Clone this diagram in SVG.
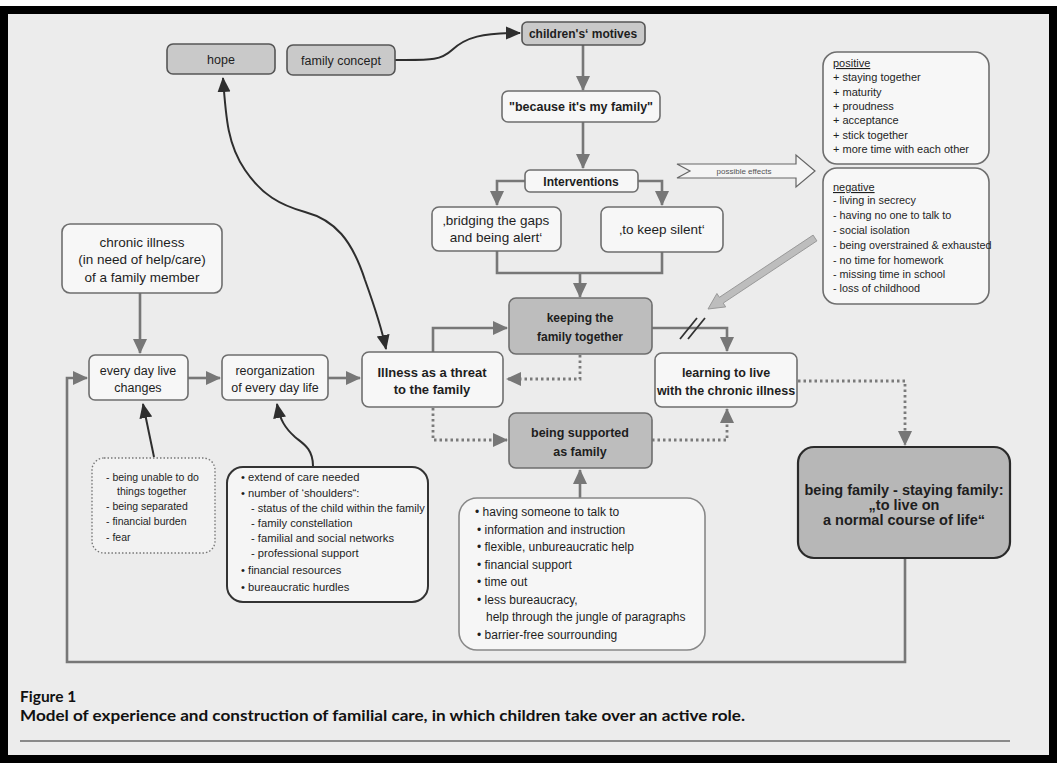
<svg xmlns="http://www.w3.org/2000/svg" width="1057" height="763" viewBox="0 0 1057 763">
<style>
text{font-family:"Liberation Sans",Arial,sans-serif;fill:#1e1e1e}
.b{font-weight:bold}
.c{text-anchor:middle}
.box{fill:#f7f7f7;stroke:#6e6e6e;stroke-width:1.6}
.gbox{fill:#c9c9c9;stroke:#555;stroke-width:1.6}
.dbox{fill:#bdbdbd;stroke:#6e6e6e;stroke-width:1.6}
.ln{fill:none;stroke:#777;stroke-width:2.6}
.dot{fill:none;stroke:#7a7a7a;stroke-width:2.8;stroke-dasharray:2.5 3}
.dk{fill:none;stroke:#2e2e2e;stroke-width:2}
.s11{font-size:11px}
.s12{font-size:12px}
.s13{font-size:13.5px}
.cap{font-family:Lato,"Open Sans",sans-serif;font-weight:bold;font-size:15.5px;fill:#111}
</style>
<defs>
<marker id="ag" markerUnits="userSpaceOnUse" markerWidth="16" markerHeight="16" viewBox="0 0 16 16" refX="14" refY="8" orient="auto">
<path d="M0,1 L15,8 L0,15 z" fill="#777"/>
</marker>
<marker id="ad" markerUnits="userSpaceOnUse" markerWidth="16" markerHeight="16" viewBox="0 0 16 16" refX="14" refY="8" orient="auto-start-reverse">
<path d="M0,1.5 L15,8 L0,14.5 z" fill="#2e2e2e"/>
</marker>
</defs>
<rect width="1057" height="763" fill="#ffffff"/>
<rect x="8" y="14" width="1041" height="741" fill="#ececec"/>
<path d="M0,6 H1057 V763 H0 Z M8,14 V755 H1049 V14 Z" fill="#000" fill-rule="evenodd"/>

<g id="connectors">
<path class="dk" d="M395,60 C430,60 440,61 452,50 C466,37 482,33 520,33" marker-end="url(#ad)"/>
<path class="ln" d="M583,45 V90" marker-end="url(#ag)"/>
<path class="ln" d="M583,122 V168" marker-end="url(#ag)"/>
<path class="ln" d="M525,181 H497 V205" marker-end="url(#ag)"/>
<path class="ln" d="M638,181 H662 V205" marker-end="url(#ag)"/>
<path class="ln" d="M497,251 V273 H662 V252"/>
<path class="ln" d="M580,273 V297" marker-end="url(#ag)"/>
<path class="ln" d="M433,352 V328 H507" marker-end="url(#ag)"/>
<path class="ln" d="M652,328 H727 V351" marker-end="url(#ag)"/>
<path d="M680,339 L697,318 M688,339 L705,318" stroke="#333" stroke-width="1.8" fill="none"/>
<path class="dot" d="M580,355 V379 H507" marker-end="url(#ag)"/>
<path class="dot" d="M433,408 V440 H507" marker-end="url(#ag)"/>
<path class="dot" d="M652,440 H727 V409" marker-end="url(#ag)"/>
<path class="dot" d="M798,381 H905 V445" marker-end="url(#ag)"/>
<path class="ln" d="M905,559 V662 H67 V378 H87" stroke-width="3" marker-end="url(#ag)"/>
<path class="ln" d="M140,293 V353" marker-end="url(#ag)"/>
<path class="ln" d="M188,378 H220" marker-end="url(#ag)"/>
<path class="ln" d="M328,378 H360" marker-end="url(#ag)"/>
<path class="ln" d="M580,498 V470" marker-end="url(#ag)"/>
<path class="dk" d="M313,466 C313,448 302,443 295,437 C285,428 280,420 277,404" marker-end="url(#ad)"/>
<path class="dk" d="M154,457 L143,404" stroke-width="1.6" marker-end="url(#ad)"/>
<path class="dk" d="M223,78 C226,120 228,145 245,170 C262,195 280,205 305,212 C335,220 352,240 365,280 C374,305 381,325 386,349" marker-start="url(#ad)" marker-end="url(#ad)"/>
<polygon points="677,164 796,164 796,155 815,171 796,187 796,178 677,178 690,171" fill="#f4f4f4" stroke="#666" stroke-width="1.2"/>
<text x="744" y="174" class="c" font-size="8" style="fill:#555">possible effects</text>
<polygon points="813.1,235.1 719.4,297.3 716.9,293.5 708,309 725.7,306.9 723.2,303.1 816.9,240.9" fill="#bdbdbd" stroke="#999" stroke-width="1"/>
</g>

<g id="hope"><rect class="gbox" x="167" y="44" width="108" height="30" rx="6"/><text x="221" y="63.5" class="c" font-size="12.5">hope</text></g>
<g id="family-concept"><rect class="gbox" x="287" y="45" width="108" height="30" rx="6"/><text x="341" y="64.5" class="c" font-size="12.5">family concept</text></g>
<g id="motives"><rect class="gbox" x="522" y="22" width="123" height="23" rx="5"/><text x="583" y="38" class="c b s12">children's‘ motives</text></g>
<g id="because"><rect class="box" x="502" y="91" width="158" height="31" rx="6"/><text x="581" y="111" class="c b" font-size="12.5">"because it's my family"</text></g>
<g id="interventions"><rect class="box" x="525" y="170" width="113" height="22" rx="5"/><text x="581" y="185.5" class="c b s12">Interventions</text></g>
<g id="bridging"><rect class="box" x="432" y="207" width="129" height="44" rx="7"/><text x="496" y="225" class="c s13">‚bridging the gaps</text><text x="496" y="242" class="c s13">and being alert‘</text></g>
<g id="keep-silent"><rect class="box" x="601" y="207" width="122" height="45" rx="7"/><text x="662" y="234" class="c s13">‚to keep silent‘</text></g>
<g id="keeping"><rect class="dbox" x="509" y="298" width="143" height="56" rx="7"/><text x="580" y="322" class="c b s12">keeping the</text><text x="580" y="341" class="c b s12">family together</text></g>
<g id="illness-threat"><rect class="box" x="362" y="352" width="141" height="55" rx="7"/><text x="432" y="377" class="c b" font-size="13">Illness as a threat</text><text x="432" y="394" class="c b" font-size="13">to the family</text></g>
<g id="every-day"><rect class="box" x="89" y="355" width="99" height="45" rx="6"/><text x="138" y="375" class="c" font-size="12.5">every day live</text><text x="138" y="392" class="c" font-size="12.5">changes</text></g>
<g id="reorganization"><rect class="box" x="222" y="355" width="106" height="45" rx="6"/><text x="275" y="375" class="c" font-size="12.5">reorganization</text><text x="275" y="392" class="c" font-size="12.5">of every day life</text></g>
<g id="chronic"><rect class="box" x="62" y="224" width="160" height="69" rx="8"/><text x="142" y="247" class="c s13">chronic illness</text><text x="142" y="264" class="c s13">(in need of help/care)</text><text x="142" y="282" class="c s13">of a family member</text></g>
<g id="learning"><rect class="box" x="655" y="353" width="142" height="54" rx="7"/><text x="726" y="377" class="c b" font-size="12.5">learning to live</text><text x="726" y="395" class="c b" font-size="12.5">with the chronic illness</text></g>
<g id="supported"><rect class="dbox" x="509" y="413" width="143" height="55" rx="7"/><text x="580" y="437" class="c b" font-size="12.5">being supported</text><text x="580" y="456" class="c b" font-size="12.5">as family</text></g>
<g id="being-family"><rect x="798" y="447" width="212" height="111" rx="16" fill="#b7b7b7" stroke="#2a2a2a" stroke-width="2.2"/><text x="904" y="495" class="c b" font-size="14.5">being family - staying family:</text><text x="904" y="510" class="c b" font-size="14.5">„to live on</text><text x="904" y="525" class="c b" font-size="14.5">a normal course of life“</text></g>

<g id="positive"><rect class="box" x="823" y="52" width="166" height="112" rx="14"/>
<text x="833" y="67" class="s11" text-decoration="underline">positive</text>
<text x="833" y="81" class="s11">+ staying together</text>
<text x="833" y="95.5" class="s11">+ maturity</text>
<text x="833" y="110" class="s11">+ proudness</text>
<text x="833" y="124" class="s11">+ acceptance</text>
<text x="833" y="138.5" class="s11">+ stick together</text>
<text x="833" y="153" class="s11">+ more time with each other</text></g>
<g id="negative"><rect class="box" x="823" y="168" width="166" height="136" rx="14"/>
<text x="833" y="191" class="s11" text-decoration="underline">negative</text>
<text x="833" y="204" font-size="10.8">- living in secrecy</text>
<text x="833" y="219" font-size="10.8">- having no one to talk to</text>
<text x="833" y="234" font-size="10.8">- social isolation</text>
<text x="833" y="249" font-size="10.8">- being overstrained &amp; exhausted</text>
<text x="833" y="264" font-size="10.8">- no time for homework</text>
<text x="833" y="278" font-size="10.8">- missing time in school</text>
<text x="833" y="292" font-size="10.8">- loss of childhood</text></g>

<g id="burdens"><rect x="92" y="458" width="123" height="95" rx="12" fill="#f2f2f2" stroke="#777" stroke-width="1.4" stroke-dasharray="1.5 2"/>
<text x="106" y="481" font-size="10.5">- being unable to do</text>
<text x="117" y="495" font-size="10.5">things together</text>
<text x="106" y="510" font-size="10.5">- being separated</text>
<text x="106" y="525" font-size="10.5">- financial burden</text>
<text x="106" y="541" font-size="10.5">- fear</text></g>

<g id="care"><rect x="227" y="467" width="201" height="135" rx="16" fill="#f5f5f5" stroke="#333" stroke-width="2"/>
<text x="241" y="481" font-size="11.2">• extend of care needed</text>
<text x="241" y="497" font-size="11.2">• number of ‘shoulders“:</text>
<text x="251" y="512" font-size="11">- status of the child within the family</text>
<text x="251" y="527" font-size="11.2">- family constellation</text>
<text x="251" y="542" font-size="11.2">- familial and social networks</text>
<text x="251" y="557" font-size="11.2">- professional support</text>
<text x="241" y="574" font-size="11.2">• financial resources</text>
<text x="241" y="591" font-size="11.2">• bureaucratic hurdles</text></g>

<g id="support-needs"><rect x="459" y="498" width="246" height="152" rx="18" fill="#f6f6f6" stroke="#888" stroke-width="1.6"/>
<text x="475" y="516" class="s12">• having someone to talk to</text>
<text x="477" y="533.5" class="s12">•  information and instruction</text>
<text x="477" y="551" class="s12">•  flexible, unbureaucratic help</text>
<text x="477" y="568.5" class="s12">•  financial support</text>
<text x="477" y="586" class="s12">•  time out</text>
<text x="477" y="603.5" class="s12">•  less bureaucracy,</text>
<text x="486" y="621" class="s12">help through the  jungle of paragraphs</text>
<text x="477" y="638.5" class="s12">•  barrier-free sourrounding</text></g>

<g id="caption">
<text x="20" y="702" class="cap">Figure 1</text>
<text x="20" y="721" class="cap" textLength="725" lengthAdjust="spacingAndGlyphs">Model of experience and construction of familial care, in which children take over an active role.</text>
<path d="M20,741 H1010" stroke="#6a6a6a" stroke-width="1.5"/>
</g>
</svg>
